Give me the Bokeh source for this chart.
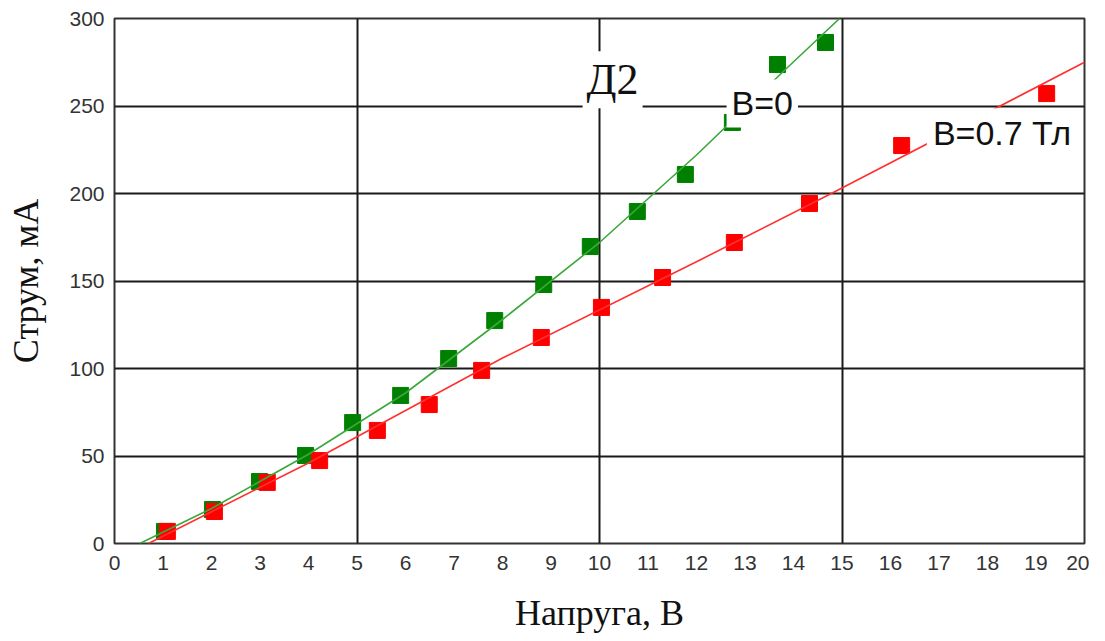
from bokeh.plotting import figure
from bokeh.models import Range1d, FixedTicker, Label
from bokeh.embed import file_html
from bokeh.resources import INLINE

# ---- data ----
x_ticks = list(range(0, 21))
y_ticks = [0, 50, 100, 150, 200, 250, 300]
x_grid = [5, 10, 15]
y_grid = [50, 100, 150, 200, 250]

# B = 0 (green)
v_b0 = [1.03, 2.02, 2.99, 3.94, 4.91, 5.90, 6.89, 7.84, 8.85, 9.81, 10.78, 11.77, 12.74, 13.67, 14.66]
i_b0 = [6.9, 19.4, 35.4, 50.3, 69.1, 84.6, 105.7, 127.4, 148.0, 169.7, 189.7, 210.9, 240.6, 273.7, 286.3]
# trend line for B = 0 (vertices)
fit_v_b0 = [0.52, 2.0, 4.0, 6.0, 8.0, 10.0, 12.0, 13.8, 14.95]
fit_i_b0 = [0.0, 20.0, 51.0, 86.0, 128.0, 172.0, 222.0, 270.0, 300.0]

# B = 0.7 T (red)
v_b07 = [1.09, 2.06, 3.15, 4.23, 5.42, 6.49, 7.57, 8.80, 10.04, 11.30, 12.78, 14.33, 16.23, 19.22]
i_b07 = [6.9, 18.3, 34.9, 47.4, 64.6, 79.4, 98.9, 117.7, 134.9, 152.0, 172.0, 194.3, 227.4, 257.1]
fit_v_b07 = [0.70, 4.0, 8.0, 12.0, 14.78, 20.0]
fit_i_b07 = [0.0, 46.0, 106.0, 161.0, 200.0, 275.0]

title_text = "Д2"
label_b0 = "В=0"
label_b07 = "В=0.7 Тл"
x_label = "Напруга, В"
y_label = "Струм, мА"

p = figure(width=1089, height=638,
           x_range=Range1d(0, 20), y_range=Range1d(0, 300),
           output_backend="svg", toolbar_location=None,
           min_border_left=114, min_border_right=5,
           min_border_top=18, min_border_bottom=95)

p.background_fill_color = "white"
p.border_fill_color = "white"
p.outline_line_color = "#333333"
p.outline_line_width = 2

p.xaxis.ticker = FixedTicker(ticks=x_ticks)
p.yaxis.ticker = FixedTicker(ticks=y_ticks)
p.xgrid.ticker = FixedTicker(ticks=x_grid)
p.ygrid.ticker = FixedTicker(ticks=y_grid)
for g in (p.xgrid, p.ygrid):
    g.grid_line_color = "#1a1a1a"
    g.grid_line_width = 2
    g.grid_line_alpha = 1.0

for ax in (p.xaxis, p.yaxis):
    ax.axis_line_color = None
    ax.major_tick_line_color = None
    ax.minor_tick_line_color = None
    ax.major_tick_out = 0
    ax.major_tick_in = 0
    ax.major_label_text_font = "Liberation Sans"
    ax.major_label_text_font_size = "21px"
    ax.major_label_text_color = "#333333"
    ax.axis_label_text_font = "Liberation Serif"
    ax.axis_label_text_font_size = "36px"
    ax.axis_label_text_font_style = "normal"
    ax.axis_label_text_color = "#111111"

p.xaxis.major_label_standoff = 12
p.yaxis.major_label_standoff = 10
p.xaxis.axis_label = x_label
p.yaxis.axis_label = y_label
p.xaxis.axis_label_standoff = 20
p.yaxis.axis_label_standoff = 20

# markers
p.scatter(v_b0, i_b0, marker="square", size=16, fill_color="#008000", line_color="#008000")
p.scatter(v_b07, i_b07, marker="square", size=16, fill_color="#ff0000", line_color="#ff0000")
# trend lines
p.line(fit_v_b07, fit_i_b07, line_color="#ff3030", line_width=1.6)
p.line(fit_v_b0, fit_i_b0, line_color="#3aa83a", line_width=1.6)

# text labels with white backgrounds
p.add_layout(Label(x=10.27, y=265, text=title_text, text_align="center",
                   text_baseline="alphabetic", text_font="Liberation Serif",
                   text_font_size="44px", text_color="#111111",
                   background_fill_color="white", padding=4))
p.add_layout(Label(x=12.62, y=251.5, text=label_b0, text_align="left",
                   text_baseline="alphabetic", text_font="Liberation Sans",
                   text_font_size="34px", text_color="#111111",
                   background_fill_color="white", padding=5))
p.add_layout(Label(x=16.75, y=234.5, text=label_b07, text_align="left",
                   text_baseline="alphabetic", text_font="Liberation Sans",
                   text_font_size="34px", text_color="#111111",
                   background_fill_color="white", padding=6))

open("out.html", "w").write(file_html(p, INLINE))
